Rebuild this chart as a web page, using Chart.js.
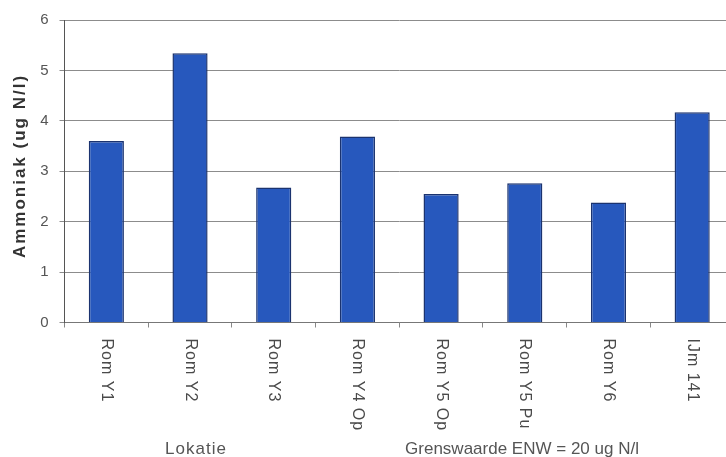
<!DOCTYPE html>
<html>
<head>
<meta charset="utf-8">
<script src="https://cdn.jsdelivr.net/npm/chart.js@4"></script>
<style>
  html, body { margin: 0; padding: 0; background: #fff; overflow: hidden; }
  #wrap { width: 736px; height: 457px; }
</style>
</head>
<body>
<div id="wrap"><canvas id="ammoniakChart" width="736" height="457"></canvas></div>
<script>
// meetlocaties en gemeten ammoniak (ug N/l)
const locaties = ['Rom Y1', 'Rom Y2', 'Rom Y3', 'Rom Y4 Op', 'Rom Y5 Op', 'Rom Y5 Pu', 'Rom Y6', 'IJm 141'];
const ammoniak = [3.60, 5.34, 2.68, 3.69, 2.55, 2.76, 2.38, 4.17];
const yTicks = [0, 1, 2, 3, 4, 5, 6];

const fontFam = '"Liberation Sans", Arial, sans-serif';

// labels onder de as (rechtsom gedraaid) en de teksten eronder
const extraText = {
  id: 'extraText',
  afterDraw(chart) {
    const ctx = chart.ctx;
    const x = chart.scales.x;
    const area = chart.chartArea;

    ctx.save();
    ctx.fillStyle = '#4a4a4a';
    ctx.font = '16px ' + fontFam;
    ctx.letterSpacing = '1px';
    ctx.textAlign = 'left';
    ctx.textBaseline = 'middle';
    locaties.forEach((lab, i) => {
      ctx.save();
      ctx.translate(x.getPixelForValue(i), area.bottom + 16);
      ctx.rotate(Math.PI / 2);
      ctx.fillText(lab, 0, 0);
      ctx.restore();
    });

    // as-titel links
    ctx.save();
    ctx.fillStyle = '#333';
    ctx.font = 'bold 17px ' + fontFam;
    ctx.letterSpacing = '2px';
    ctx.textAlign = 'center';
    ctx.translate(20, 166);
    ctx.rotate(-Math.PI / 2);
    ctx.fillText('Ammoniak (ug N/l)', 0, 0);
    ctx.restore();

    ctx.font = '17px ' + fontFam;
    ctx.fillStyle = '#555';
    ctx.letterSpacing = '1px';
    ctx.textAlign = 'center';
    ctx.fillText('Lokatie', 196, 449);
    ctx.letterSpacing = '0px';
    ctx.fillText('Grenswaarde ENW = 20 ug N/l', 522, 449);
    ctx.restore();
  }
};

new Chart(document.getElementById('ammoniakChart'), {
  type: 'bar',
  data: {
    labels: locaties,
    datasets: [{
      data: ammoniak,
      backgroundColor: '#2758bd',
      borderColor: '#1b336f',
      borderWidth: 1.5,
      barPercentage: 0.84,
      categoryPercentage: 0.5
    }]
  },
  options: {
    responsive: false,
    animation: false,
    layout: { padding: { left: 40, right: 2, top: 20, bottom: 0 } },
    plugins: { legend: { display: false }, tooltip: { enabled: false } },
    scales: {
      x: {
        grid: { offset: true, drawOnChartArea: false, tickLength: 5, color: '#888' },
        border: { color: '#777', width: 1 },
        ticks: { display: false },
        afterFit: s => { s.height = 134.5; }
      },
      y: {
        min: 0,
        max: 6,
        afterBuildTicks: s => { s.ticks = yTicks.map(v => ({ value: v })); },
        grid: { color: '#8c8c8c', tickLength: 5 },
        border: { color: '#555', width: 1 },
        ticks: { color: '#555', padding: 11, font: { size: 15, family: fontFam } },
        afterFit: s => { s.width = 24.5; }
      }
    }
  },
  plugins: [extraText]
});
</script>
</body>
</html>
